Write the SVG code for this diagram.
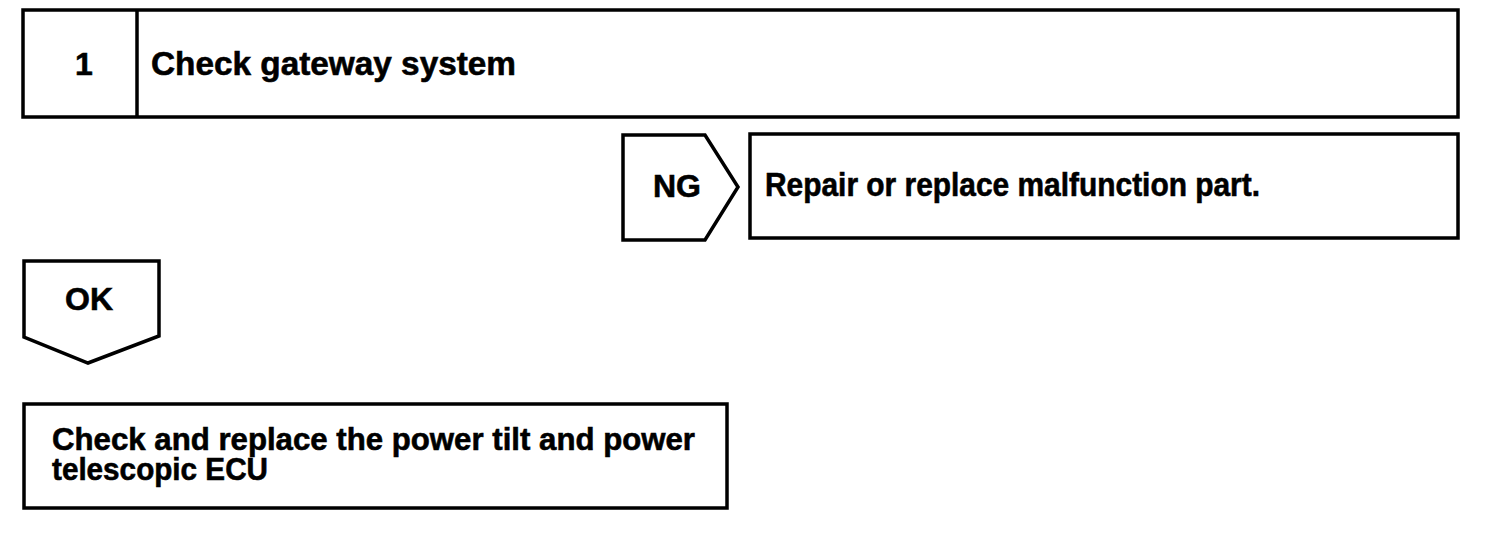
<svg xmlns="http://www.w3.org/2000/svg" width="1504" height="550" viewBox="0 0 1504 550">
<style>
.box{fill:#fff;stroke:#000;stroke-width:3.5;stroke-linejoin:miter}
.t{font-family:"Liberation Sans",Arial,sans-serif;font-weight:bold;font-size:32px;fill:#000;stroke:#000;stroke-width:0.6}
.c{text-anchor:middle}
</style>
<rect width="1504" height="550" fill="#fff"/>
<g id="step1">
<rect class="box" x="23" y="10" width="1435" height="107"/>
<line class="box" x1="137" y1="10" x2="137" y2="117"/>
<text class="t c" x="84" y="75">1</text>
<text class="t" x="151" y="75" style="font-size:34px" textLength="365" lengthAdjust="spacingAndGlyphs">Check gateway system</text>
</g>
<g id="connectors">
<g id="ng">
<polygon class="box" points="623,135 705,135 738,187 705,240 623,240"/>
<text class="t c" x="677" y="197">NG</text>
</g>
<g id="ok">
<polygon class="box" points="24,261 159,261 159,336 88,363 24,337"/>
<text class="t c" x="89" y="310">OK</text>
</g>
</g>
<g id="repair">
<rect class="box" x="750" y="134" width="708" height="104"/>
<text class="t" x="765" y="196" style="font-size:33px" textLength="495" lengthAdjust="spacingAndGlyphs">Repair or replace malfunction part.</text>
</g>
<g id="ecu">
<rect class="box" x="24" y="404" width="703" height="104"/>
<text class="t" x="52" y="450" textLength="643" lengthAdjust="spacingAndGlyphs">Check and replace the power tilt and power</text>
<text class="t" x="52" y="480" textLength="216" lengthAdjust="spacingAndGlyphs">telescopic ECU</text>
</g>
</svg>
